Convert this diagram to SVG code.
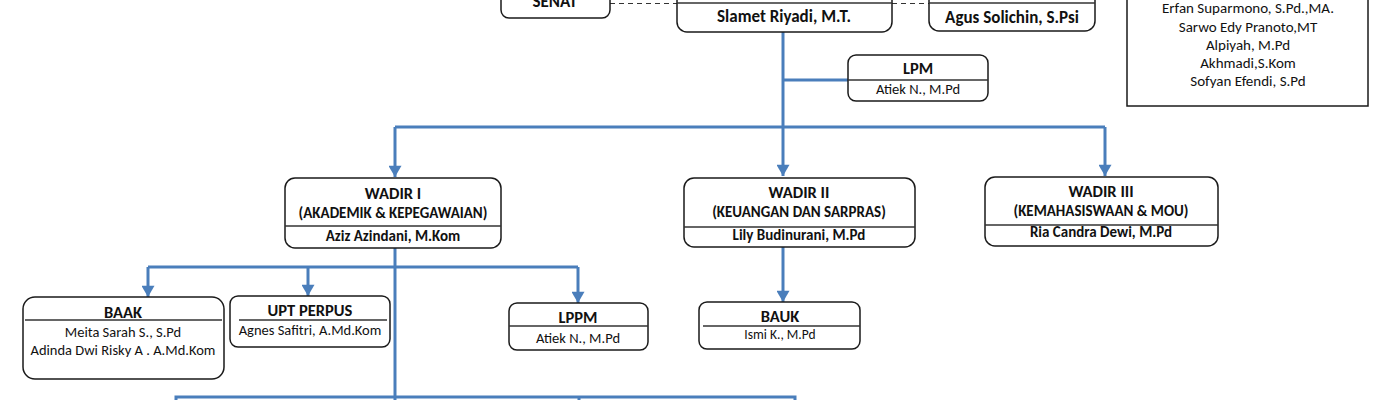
<svg xmlns="http://www.w3.org/2000/svg" width="1400" height="400" viewBox="0 0 1400 400">
<style>
.box{fill:#fff;stroke:#1a1a1a;stroke-width:1.5}
.div{stroke:#333;stroke-width:1.5}
.t{font-family:Carlito,Lato,"Open Sans",sans-serif;fill:#111;text-anchor:middle}
.b{font-weight:bold}
.h{font-size:16.5px;font-weight:bold}
.s{font-size:15px;font-weight:bold}
.r{font-size:14.5px}
.c{fill:none;stroke:#4a7ebb;stroke-width:3}
.d{fill:none;stroke:#333;stroke-width:1.2;stroke-dasharray:5 4}
</style>
<defs>
<marker id="av" markerUnits="userSpaceOnUse" markerWidth="14" markerHeight="13" refX="12" refY="7" orient="auto" viewBox="0 0 13 14">
<path d="M0,0 L12,7 L0,14 Z" fill="#4a7ebb"/>
</marker>
</defs>

<g id="connectors">
<path class="d" d="M610,3.5 H677"/>
<path class="d" d="M892,3.5 H929"/>
<path class="c" d="M783,32 V176" marker-end="url(#av)"/>
<path class="c" d="M783,80 H848"/>
<path class="c" d="M395,127 H1105"/>
<path class="c" d="M395,127 V177" marker-end="url(#av)"/>
<path class="c" d="M1105,127 V176" marker-end="url(#av)"/>
<path class="c" d="M395,248 V397"/>
<path class="c" d="M148,267 H578"/>
<path class="c" d="M148,267 V297" marker-end="url(#av)"/>
<path class="c" d="M308,267 V296" marker-end="url(#av)"/>
<path class="c" d="M578,267 V303" marker-end="url(#av)"/>
<path class="c" d="M783,247 V302" marker-end="url(#av)"/>
<path class="c" d="M176,410 V397 H795 V410"/>
<path class="c" d="M579,397 V410"/>
<path class="c" d="M395,397 V412" marker-end="url(#av)"/>
</g>

<g id="senat">
<rect class="box" x="501" y="-40" width="109" height="58" rx="8"/>
<text class="t b" x="555" y="7" font-size="17">SENAT</text>
</g>

<g id="direktur">
<rect class="box" x="677" y="-40" width="215" height="72" rx="10"/>
<line class="div" x1="677" y1="3" x2="892" y2="3"/>
<text class="t b" x="784" y="22" font-size="17">Slamet Riyadi, M.T.</text>
</g>

<g id="agus">
<rect class="box" x="929" y="-40" width="166" height="71" rx="10"/>
<line class="div" x1="929" y1="3" x2="1095" y2="3"/>
<text class="t b" x="1012" y="23" font-size="17">Agus Solichin, S.Psi</text>
</g>

<g id="daftar">
<rect class="box" x="1127" y="-10" width="241" height="116" rx="0"/>
<text class="t" x="1248" y="13" font-size="15">Erfan Suparmono, S.Pd.,MA.</text>
<text class="t" x="1248" y="32" font-size="15">Sarwo Edy Pranoto,MT</text>
<text class="t" x="1248" y="50" font-size="15">Alpiyah, M.Pd</text>
<text class="t" x="1248" y="68" font-size="15">Akhmadi,S.Kom</text>
<text class="t" x="1248" y="86" font-size="15">Sofyan Efendi, S.Pd</text>
</g>

<g id="lpm">
<rect class="box" x="848" y="55" width="140" height="46" rx="8"/>
<line class="div" x1="848" y1="80" x2="988" y2="80"/>
<text class="t h" x="918" y="74">LPM</text>
<text class="t r" x="918" y="94">Atiek N., M.Pd</text>
</g>

<g id="wadir1">
<rect class="box" x="285" y="178" width="216" height="70" rx="10"/>
<line class="div" x1="285" y1="226" x2="501" y2="226"/>
<text class="t h" x="393" y="199">WADIR I</text>
<text class="t s" x="393" y="218">(AKADEMIK &amp; KEPEGAWAIAN)</text>
<text class="t s" x="393" y="241">Aziz Azindani, M.Kom</text>
</g>

<g id="wadir2">
<rect class="box" x="684" y="178" width="231" height="69" rx="10"/>
<line class="div" x1="684" y1="227" x2="915" y2="227"/>
<text class="t h" x="799" y="198">WADIR II</text>
<text class="t s" x="799" y="217">(KEUANGAN DAN SARPRAS)</text>
<text class="t s" x="799" y="240">Lily Budinurani, M.Pd</text>
</g>

<g id="wadir3">
<rect class="box" x="985" y="177" width="233" height="69" rx="10"/>
<line class="div" x1="985" y1="225" x2="1218" y2="225"/>
<text class="t h" x="1101" y="197">WADIR III</text>
<text class="t s" x="1101" y="216">(KEMAHASISWAAN &amp; MOU)</text>
<text class="t s" x="1101" y="237">Ria Candra Dewi, M.Pd</text>
</g>

<g id="baak">
<rect class="box" x="23" y="297" width="201" height="82" rx="12"/>
<line class="div" x1="25" y1="320" x2="222" y2="320"/>
<text class="t h" x="123" y="318">BAAK</text>
<text class="t r" x="123" y="337">Meita Sarah S., S.Pd</text>
<text class="t r" x="123" y="355">Adinda Dwi Risky A . A.Md.Kom</text>
</g>

<g id="upt-perpus">
<rect class="box" x="230" y="296" width="160" height="51" rx="8"/>
<line class="div" x1="239" y1="320" x2="387" y2="320"/>
<text class="t h" x="310" y="316">UPT PERPUS</text>
<text class="t r" x="310" y="335">Agnes Safitri, A.Md.Kom</text>
</g>

<g id="lppm">
<rect class="box" x="509" y="303" width="139" height="47" rx="8"/>
<line class="div" x1="509" y1="326" x2="648" y2="326"/>
<text class="t h" x="578" y="323">LPPM</text>
<text class="t r" x="578" y="343">Atiek N., M.Pd</text>
</g>

<g id="bauk">
<rect class="box" x="699" y="302" width="161" height="47" rx="8"/>
<line class="div" x1="703" y1="326" x2="860" y2="326"/>
<text class="t h" x="780" y="322">BAUK</text>
<text class="t" x="780" y="339" font-size="13.5">Ismi K., M.Pd</text>
</g>
</svg>
